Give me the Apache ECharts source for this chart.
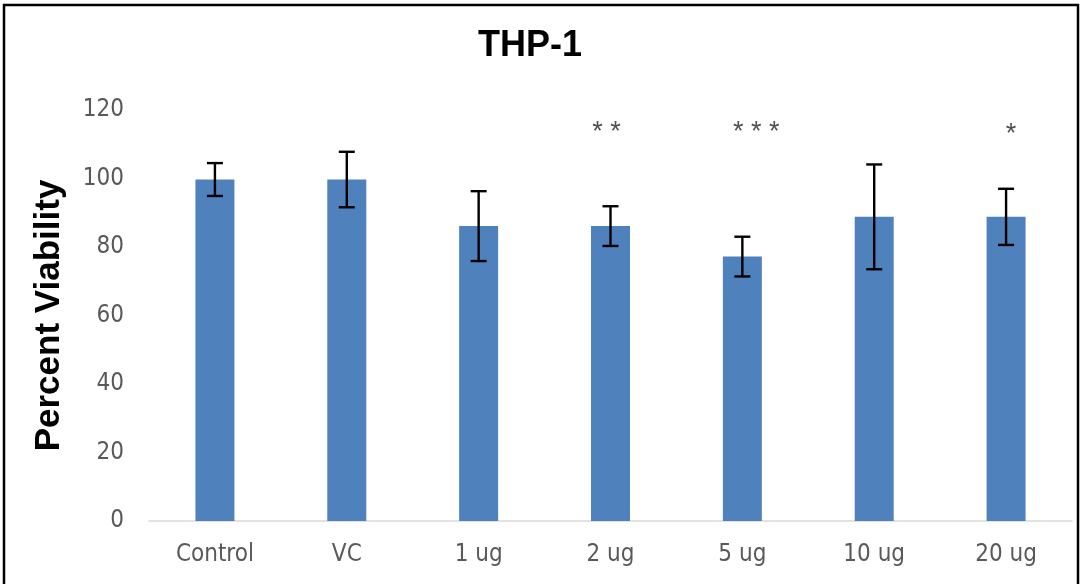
<!DOCTYPE html>
<html>
<head>
<meta charset="utf-8">
<script src="https://cdn.jsdelivr.net/npm/echarts@6/dist/echarts.min.js"></script>
<style>
html,body{margin:0;padding:0;background:#fff;}
#chart{width:1082px;height:584px;}
</style>
</head>
<body>
<div id="chart"></div>
<script>
const categories = ['Control', 'VC', '1 ug', '2 ug', '5 ug', '10 ug', '20 ug'];
const viability = [99.7, 99.7, 86.1, 86.1, 77.2, 88.8, 88.8];
const errorSD = [4.8, 8.1, 10.2, 5.8, 5.8, 15.3, 8.2];
const significance = ['', '', '', '* *', '* * *', '', '*'];
const sigLevel = [113.5, 113.5, 113.5, 113.5, 113.5, 113.5, 112.8];
const yTicks = [0, 20, 40, 60, 80, 100, 120];

const chart = echarts.init(document.getElementById('chart'), null, {renderer: 'canvas'});
const tickFont = '"Liberation Sans Narrow", "DejaVu Sans Condensed", "Liberation Sans", sans-serif';

const errData = categories.map((c, i) => [i, viability[i] - errorSD[i], viability[i] + errorSD[i]]);
const sigData = categories.map((c, i) => ({
  value: [i, sigLevel[i]],
  label: {offset: [i === 4 ? 14 : (i === 3 ? -4 : 5), 0]}
}));

chart.setOption({
  animation: false,
  backgroundColor: '#ffffff',
  title: {
    text: 'THP-1',
    left: 525, top: 23, textAlign: 'center',
    textStyle: {fontFamily: '"Liberation Sans", Arial, sans-serif', fontWeight: 'bold', fontSize: 36, color: '#000'}
  },
  graphic: [{
    type: 'rect', shape: {x: 4, y: 5, width: 1074, height: 600},
    style: {fill: 'none', stroke: '#000', lineWidth: 2.5}, silent: true, z: 100
  }],
  grid: {left: 149, right: 10, top: 110, bottom: 63, containLabel: false},
  xAxis: {
    type: 'category',
    data: categories,
    axisLine: {lineStyle: {color: '#d9d9d9', width: 1.5}},
    axisTick: {show: false},
    axisLabel: {color: '#595959', fontSize: 24, fontFamily: tickFont, margin: 22}
  },
  yAxis: {
    type: 'value',
    min: 0, max: 120, interval: 20,
    name: 'Percent Viability',
    nameLocation: 'middle',
    nameGap: 82,
    nameTextStyle: {fontFamily: '"Liberation Sans", Arial, sans-serif', fontWeight: 'bold', fontSize: 35, color: '#000'},
    axisLine: {show: false},
    axisTick: {show: false},
    splitLine: {show: false},
    axisLabel: {color: '#595959', fontSize: 24, fontFamily: tickFont, margin: 25,
      formatter: v => yTicks.includes(v) ? String(v) : ''}
  },
  series: [
    {
      type: 'bar',
      data: viability,
      barWidth: 39,
      itemStyle: {color: '#4f81bd'}
    },
    {
      type: 'custom',
      data: errData,
      z: 10,
      renderItem: function (params, api) {
        const x = api.value(0);
        const lo = api.coord([x, api.value(1)]);
        const hi = api.coord([x, api.value(2)]);
        const hw = 8;
        const st = {stroke: '#000', lineWidth: 2.4};
        return {
          type: 'group',
          children: [
            {type: 'line', shape: {x1: hi[0], y1: hi[1], x2: lo[0], y2: lo[1]}, style: st},
            {type: 'line', shape: {x1: hi[0] - hw, y1: hi[1], x2: hi[0] + hw, y2: hi[1]}, style: st},
            {type: 'line', shape: {x1: lo[0] - hw, y1: lo[1], x2: lo[0] + hw, y2: lo[1]}, style: st}
          ]
        };
      }
    },
    {
      type: 'scatter',
      data: sigData,
      symbolSize: 0,
      silent: true,
      label: {
        show: true, position: 'inside',
        formatter: p => significance[p.dataIndex],
        fontSize: 27, color: '#262626', fontFamily: '"Liberation Sans", Arial, sans-serif'
      }
    }
  ]
});
</script>
</body>
</html>
